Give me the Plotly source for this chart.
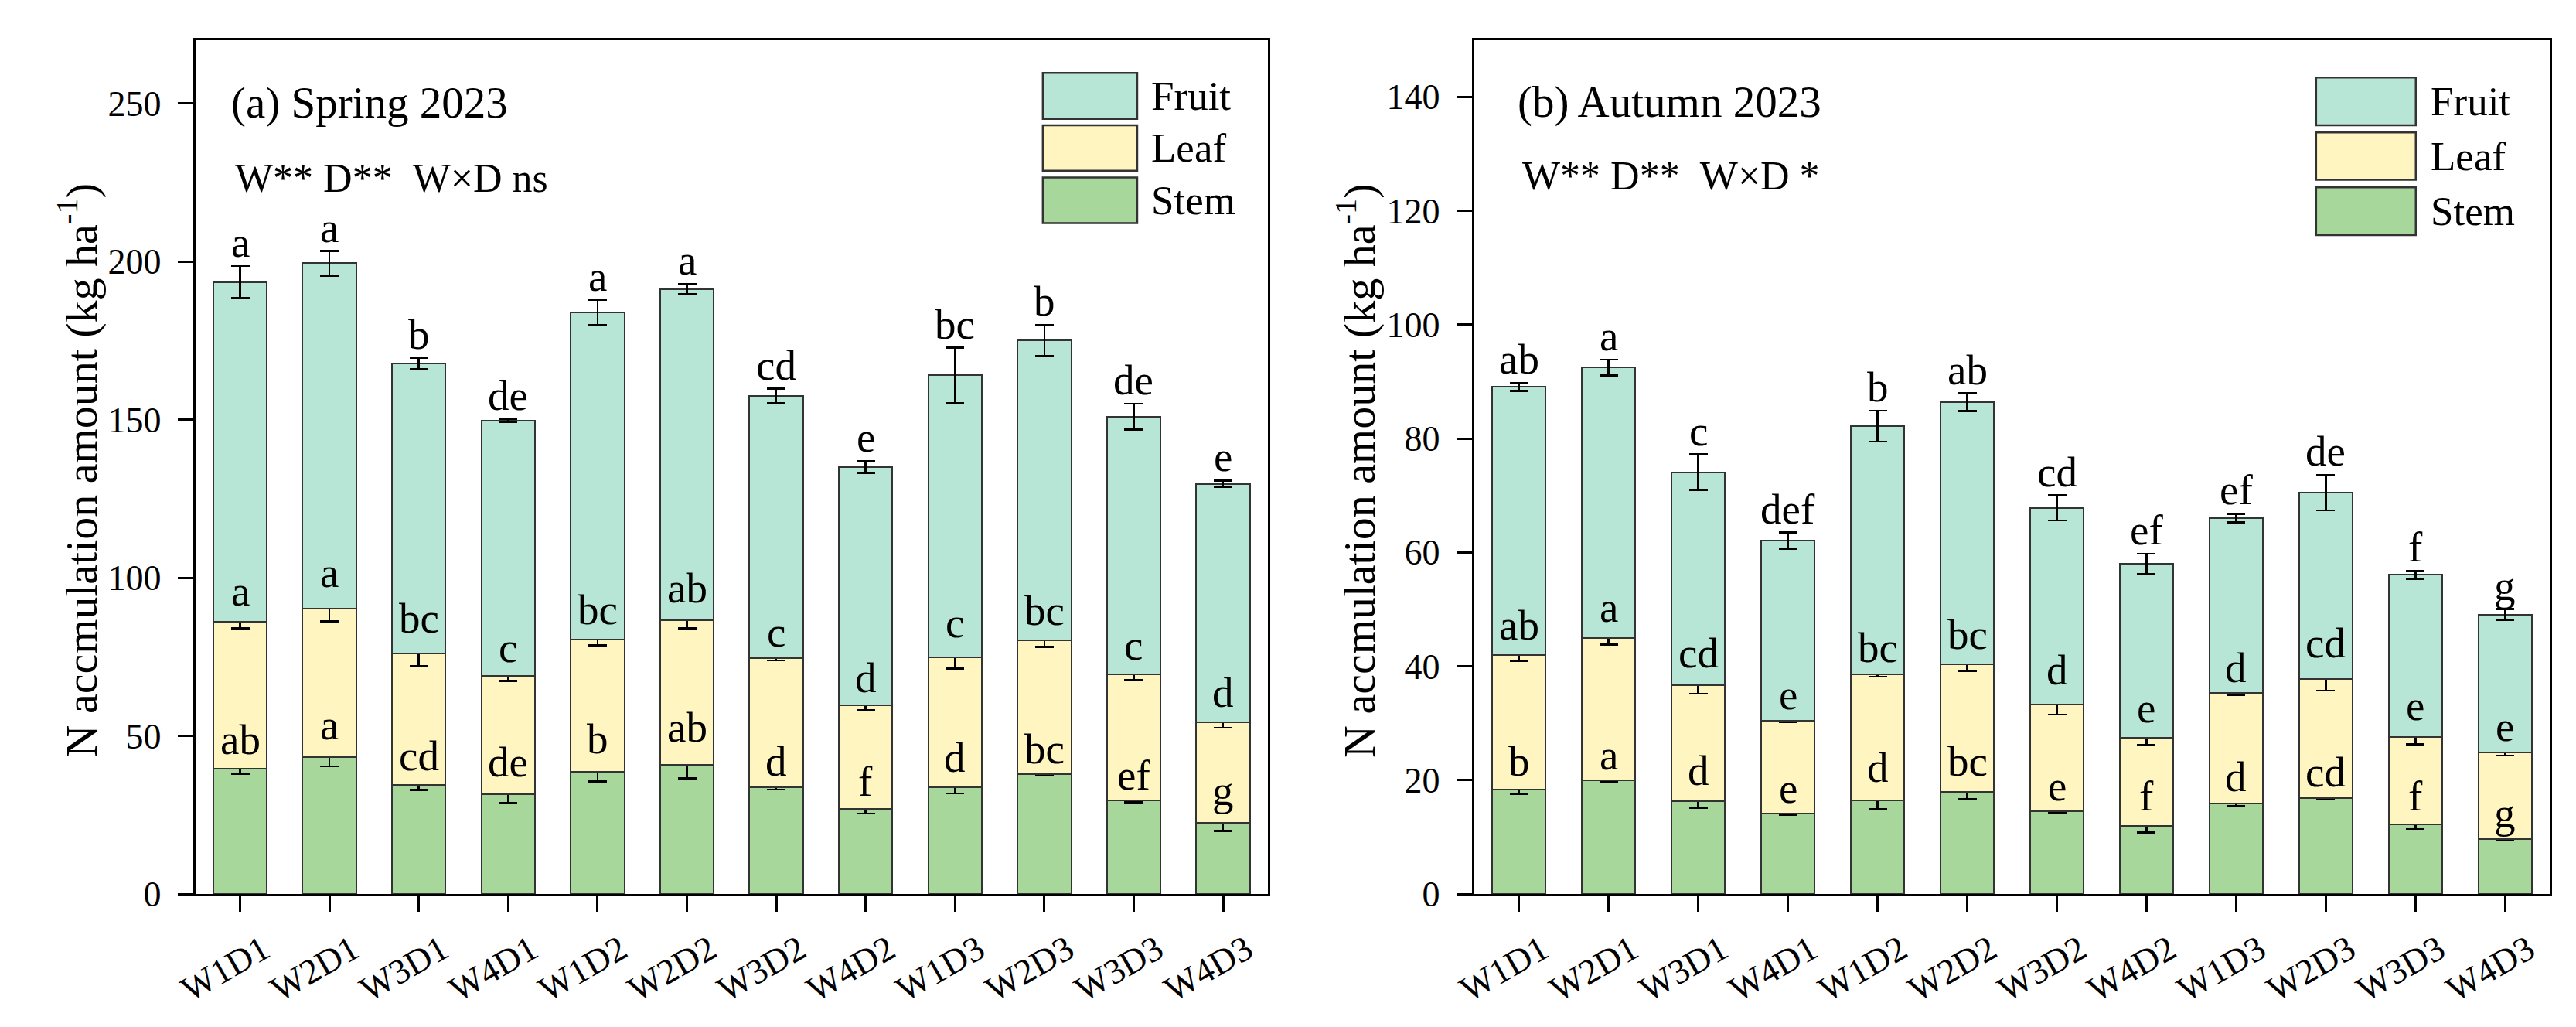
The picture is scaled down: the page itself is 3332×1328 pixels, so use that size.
import plotly.graph_objects as go

W, H = 3332, 1328
FONT = "Liberation Serif"

categories = ["W1D1", "W2D1", "W3D1", "W4D1", "W1D2", "W2D2",
              "W3D2", "W4D2", "W1D3", "W2D3", "W3D3", "W4D3"]
parts = ["Stem", "Leaf", "Fruit"]
colors = {"Stem": "#A7D79A", "Leaf": "#FFF5C0", "Fruit": "#B8E6D6"}

# (a) Spring 2023 — segment values (kg ha-1)
spring_stem = [39.6, 43.2, 34.6, 31.5, 38.6, 40.9, 33.8, 26.8, 33.8, 38.0, 29.5, 22.5]
spring_stem_err = [1.7, 2.8, 1.7, 2.7, 3.0, 4.3, 0.8, 1.3, 2.0, 0.5, 0.5, 2.6]
spring_leaf = [46.5, 47.0, 41.4, 37.4, 41.9, 45.7, 40.8, 32.8, 41.0, 42.1, 39.9, 31.9]
spring_leaf_err = [2.1, 4.0, 3.8, 1.5, 1.9, 2.6, 0.8, 1.35, 3.5, 2.0, 1.7, 1.8]
spring_fruit = [107.4, 109.2, 91.7, 80.7, 103.4, 104.7, 82.9, 75.4, 89.2, 94.9, 81.5, 75.3]
spring_fruit_err = [5.0, 3.9, 1.7, 0.5, 4.0, 1.5, 2.25, 1.9, 8.7, 5.0, 4.1, 1.0]
spring_stem_letters = ["ab", "a", "cd", "de", "b", "ab", "d", "f", "d", "bc", "ef", "g"]
spring_leaf_letters = ["a", "a", "bc", "c", "bc", "ab", "c", "d", "c", "bc", "c", "d"]
spring_fruit_letters = ["a", "a", "b", "de", "a", "a", "cd", "e", "bc", "b", "de", "e"]

# (b) Autumn 2023 — segment values (kg ha-1)
autumn_stem = [18.4, 20.0, 16.3, 14.15, 16.5, 17.9, 14.5, 11.9, 15.9, 16.9, 12.2, 9.7]
autumn_stem_err = [0.8, 0.3, 1.2, 0.3, 1.6, 1.2, 0.3, 1.1, 0.5, 0.3, 0.8, 0.3]
autumn_leaf = [23.6, 25.0, 20.4, 16.35, 22.15, 22.4, 18.85, 15.5, 19.4, 20.9, 15.4, 15.1]
autumn_leaf_err = [1.1, 1.2, 1.5, 0.3, 0.5, 1.2, 1.8, 1.2, 0.3, 2.1, 1.3, 0.5]
autumn_fruit = [47.05, 47.5, 37.4, 31.55, 43.55, 46.1, 34.45, 30.6, 30.75, 32.7, 28.45, 24.3]
autumn_fruit_err = [0.7, 1.4, 3.1, 1.45, 2.7, 1.55, 2.2, 1.75, 0.75, 3.1, 0.75, 0.95]
autumn_stem_letters = ["b", "a", "d", "e", "d", "bc", "e", "f", "d", "cd", "f", "g"]
autumn_leaf_letters = ["ab", "a", "cd", "e", "bc", "bc", "d", "e", "d", "cd", "e", "e"]
autumn_fruit_letters = ["ab", "a", "c", "def", "b", "ab", "cd", "ef", "ef", "de", "f", "g"]

panels = [
    dict(xa="x", ya="y",
         vals={"Stem": spring_stem, "Leaf": spring_leaf, "Fruit": spring_fruit},
         errs={"Stem": spring_stem_err, "Leaf": spring_leaf_err, "Fruit": spring_fruit_err},
         lets={"Stem": spring_stem_letters, "Leaf": spring_leaf_letters, "Fruit": spring_fruit_letters},
         title="(a) Spring 2023", stats="W** D**\u00a0\u00a0W×D ns",
         yrange=[0, 270], dtick=50,
         xdom=[219.5, 1618], title_px=(264.5, 128), stats_px=(269, 226.5),
         ylab_x=66, leg_box=(1324.6, 1447.7), leg_rows=[(88, 148.7), (157, 217), (226, 286)], leg_text_x=1464),
    dict(xa="x2", ya="y2",
         vals={"Stem": autumn_stem, "Leaf": autumn_leaf, "Fruit": autumn_fruit},
         errs={"Stem": autumn_stem_err, "Leaf": autumn_leaf_err, "Fruit": autumn_fruit_err},
         lets={"Stem": autumn_stem_letters, "Leaf": autumn_leaf_letters, "Fruit": autumn_fruit_letters},
         title="(b) Autumn 2023", stats="W** D**\u00a0\u00a0W×D *",
         yrange=[0, 150], dtick=20,
         xdom=[1887, 3290], title_px=(1941.6, 126), stats_px=(1948, 224),
         ylab_x=1733, leg_box=(2985, 3115), leg_rows=[(94, 157), (166.5, 229), (239, 302)], leg_text_x=3132),
]


def px_x(v):
    return v / W


def px_y(v):
    return 1 - v / H


fig = go.Figure()
annotations = []
shapes = []

for p in panels:
    cum = [0.0] * len(categories)
    for part in parts:
        vals = p["vals"][part]
        errs = p["errs"][part]
        fig.add_trace(go.Bar(
            x=categories, y=vals, name=part, xaxis=p["xa"], yaxis=p["ya"],
            marker=dict(color=colors[part], line=dict(color="#333333", width=2)),
            error_y=dict(type="data", array=errs, visible=True, color="black",
                         thickness=2.5, width=12),
            showlegend=False,
        ))
        cum = [c + v for c, v in zip(cum, vals)]
        for cat, top, e, lt in zip(categories, cum, errs, p["lets"][part]):
            annotations.append(dict(
                x=cat, y=top + e, xref=p["xa"], yref=p["ya"], text=lt,
                showarrow=False, yanchor="bottom", xanchor="center", yshift=-2,
                font=dict(family=FONT, size=55, color="black")))

    annotations.append(dict(x=px_x(p["title_px"][0]), y=px_y(p["title_px"][1]), xref="paper", yref="paper",
                            text=p["title"], showarrow=False, xanchor="left", yanchor="middle",
                            font=dict(family=FONT, size=57, color="black")))
    annotations.append(dict(x=px_x(p["stats_px"][0]), y=px_y(p["stats_px"][1]), xref="paper", yref="paper",
                            text=p["stats"], showarrow=False, xanchor="left", yanchor="middle",
                            font=dict(family=FONT, size=52, color="black")))
    annotations.append(dict(x=px_x(p["ylab_x"]), y=px_y(612), xref="paper", yref="paper",
                            text="N accmulation amount (kg ha<sup>-1</sup>)", textangle=-90,
                            showarrow=False, xanchor="center", yanchor="middle",
                            font=dict(family=FONT, size=58, color="black")))
    # legend drawn as boxes + labels
    for part, (y0, y1) in zip(["Fruit", "Leaf", "Stem"], p["leg_rows"]):
        shapes.append(dict(type="rect", xref="paper", yref="paper",
                           x0=px_x(p["leg_box"][0]), x1=px_x(p["leg_box"][1]),
                           y0=px_y(y1), y1=px_y(y0),
                           fillcolor=colors[part], line=dict(color="#333333", width=2.5)))
        annotations.append(dict(x=px_x(p["leg_text_x"]), y=px_y((y0 + y1) / 2), xref="paper", yref="paper",
                                text=part, showarrow=False, xanchor="left", yanchor="middle",
                                font=dict(family=FONT, size=53, color="black")))

ydom = [1 - 1171 / H, 1 - 44.6 / H]
axis_common = dict(showline=True, linecolor="black", linewidth=3, mirror=True,
                   ticks="outside", ticklen=20, tickwidth=3, tickcolor="black",
                   showgrid=False, zeroline=False,
                   tickfont=dict(family=FONT, size=46, color="black"))

layout = dict(
    width=W, height=H, margin=dict(l=0, r=0, t=0, b=0),
    paper_bgcolor="white", plot_bgcolor="white",
    barmode="stack", bargap=0.4, showlegend=False,
    annotations=annotations, shapes=shapes,
    font=dict(family=FONT, color="black"),
)
for i, p in enumerate(panels):
    suffix = "" if i == 0 else "2"
    layout["xaxis" + suffix] = dict(axis_common, domain=[px_x(p["xdom"][0]), px_x(p["xdom"][1])],
                                    anchor="y" + suffix, tickangle=-30, type="category",
                                    ticklabelshift=30, ticklabelstandoff=4)
    layout["yaxis" + suffix] = dict(axis_common, domain=ydom, anchor="x" + suffix,
                                    range=p["yrange"], dtick=p["dtick"], tick0=0,
                                    ticklabelstandoff=12)
fig.update_layout(**layout)
fig.write_html("out.html")
